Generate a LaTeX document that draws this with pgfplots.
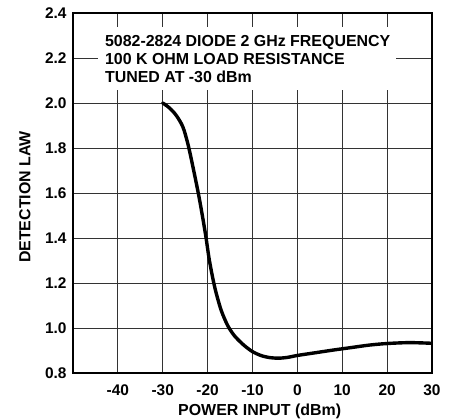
\documentclass[border=0pt]{standalone}
\usepackage{pgfplots}
\pgfplotsset{compat=1.18}
\usepackage{fontspec}
\setmainfont{Liberation Sans}
\begin{document}
\begin{tikzpicture}
\path[use as bounding box] (-73bp,-47bp) rectangle (377bp,373bp);
\begin{axis}[
  anchor=south west, at={(0,0)},
  width=359bp, height=360bp, scale only axis,
  xmin=-50, xmax=30, ymin=0.8, ymax=2.4,
  xtick={-40,-30,-20,-10,0,10,20,30},
  ytick={0.8,1.0,1.2,1.4,1.6,1.8,2.0,2.2,2.4},
  grid=major,
  major grid style={black!80, line width=0.8bp},
  major tick length=0pt,
  axis line style={line width=1.8bp},
  /pgf/number format/assume math mode=true,
  ticklabel style={font=\bfseries\fontsize{15.5}{16}\selectfont},
  xticklabel style={anchor=base, yshift=-22bp},
  yticklabel style={/pgf/number format/.cd, fixed, fixed zerofill, precision=1, /tikz/.cd, xshift=-3bp},
  xlabel={POWER INPUT (dBm)},
  ylabel={DETECTION LAW},
  label style={font=\bfseries\fontsize{16}{16}\selectfont},
  xlabel style={at={(axis description cs:0.52,-0.1167)}, anchor=base},
  ylabel style={at={(axis description cs:-0.1337,0.489)}, anchor=center},
]
\fill[white] (axis cs:-44.44,2.058) rectangle (axis cs:22,2.339);
\node[anchor=base west, inner sep=0, font=\bfseries\fontsize{16}{16}\selectfont] at (axis cs:-42.89,2.2502) {5082-2824 DIODE 2 GHz FREQUENCY};
\node[anchor=base west, inner sep=0, font=\bfseries\fontsize{16}{16}\selectfont] at (axis cs:-42.89,2.1689) {100 K OHM LOAD RESISTANCE};
\node[anchor=base west, inner sep=0, font=\bfseries\fontsize{16}{16}\selectfont] at (axis cs:-42.89,2.0902) {TUNED AT -30 dBm};
\addplot[black, line width=3.4bp, smooth, tension=0.5, line cap=round] coordinates {
(-30,2.0) (-28.5,1.978) (-27,1.945) (-25.5,1.893) (-24.3,1.81) (-23,1.69)
(-21.8,1.57) (-20.5,1.42) (-19.6,1.30) (-18.4,1.18) (-17,1.08) (-15.5,1.01)
(-14,0.965) (-12,0.925) (-10,0.895) (-8,0.877) (-6,0.868) (-4,0.866)
(-2,0.870) (0,0.878) (4,0.890) (8,0.902) (12,0.913) (16,0.924)
(20,0.931) (25,0.935) (30,0.932)
};
\end{axis}
\end{tikzpicture}
\end{document}
